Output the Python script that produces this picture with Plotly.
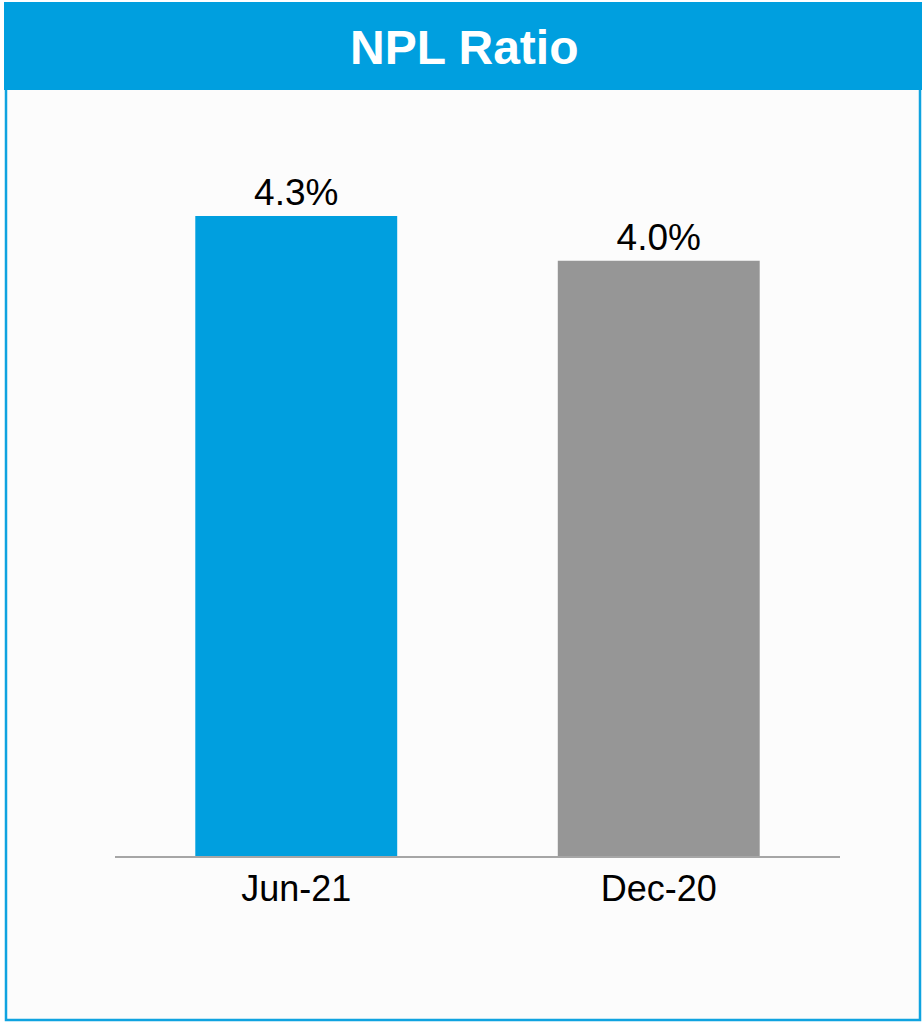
import plotly.graph_objects as go

# NPL ratio by reporting period
periods = ["Jun-21", "Dec-20"]
npl_ratio = [4.3, 4.0]
bar_colors = ["#009FDF", "#969696"]
value_labels = [f"{v:.1f}%" for v in npl_ratio]

W, H = 922, 1023


def px_x(x):
    return x / W


def px_y(y):
    return 1 - y / H


fig = go.Figure(
    go.Bar(
        x=periods,
        y=npl_ratio,
        marker=dict(color=bar_colors, line=dict(width=0)),
        text=value_labels,
        textposition="outside",
        textfont=dict(family="Liberation Sans, Arial, sans-serif", size=37, color="#000000"),
        cliponaxis=False,
        width=0.557,
        hoverinfo="skip",
    )
)

fig.update_layout(
    width=W,
    height=H,
    margin=dict(l=0, r=0, t=0, b=0),
    paper_bgcolor="#FFFFFF",
    plot_bgcolor="rgba(0,0,0,0)",
    showlegend=False,
    xaxis=dict(
        domain=[px_x(115), px_x(840)],
        showline=True,
        linecolor="#A6A6A6",
        linewidth=2,
        showgrid=False,
        zeroline=False,
        ticks="",
        tickfont=dict(family="Liberation Sans, Arial, sans-serif", size=36, color="#000000"),
    ),
    yaxis=dict(
        domain=[px_y(856), px_y(91)],
        range=[0, 5.14],
        visible=False,
        showgrid=False,
        zeroline=False,
    ),
    shapes=[
        # panel background and frame
        dict(type="rect", xref="paper", yref="paper",
             x0=px_x(6), x1=px_x(920), y0=px_y(1020), y1=px_y(88),
             fillcolor="#FCFCFC", line=dict(color="#0FA3E0", width=2.5), layer="below"),
        # title band
        dict(type="rect", xref="paper", yref="paper",
             x0=px_x(4), x1=px_x(922), y0=px_y(90), y1=px_y(2),
             fillcolor="#009FDF", line=dict(width=0), layer="below"),
    ],
    annotations=[
        dict(text="<b>NPL Ratio</b>", xref="paper", yref="paper",
             x=px_x(464), y=px_y(48), xanchor="center", yanchor="middle",
             showarrow=False,
             font=dict(family="Liberation Sans, Arial, sans-serif", size=48, color="#FFFFFF")),
    ],
)

fig.write_html("out.html")
